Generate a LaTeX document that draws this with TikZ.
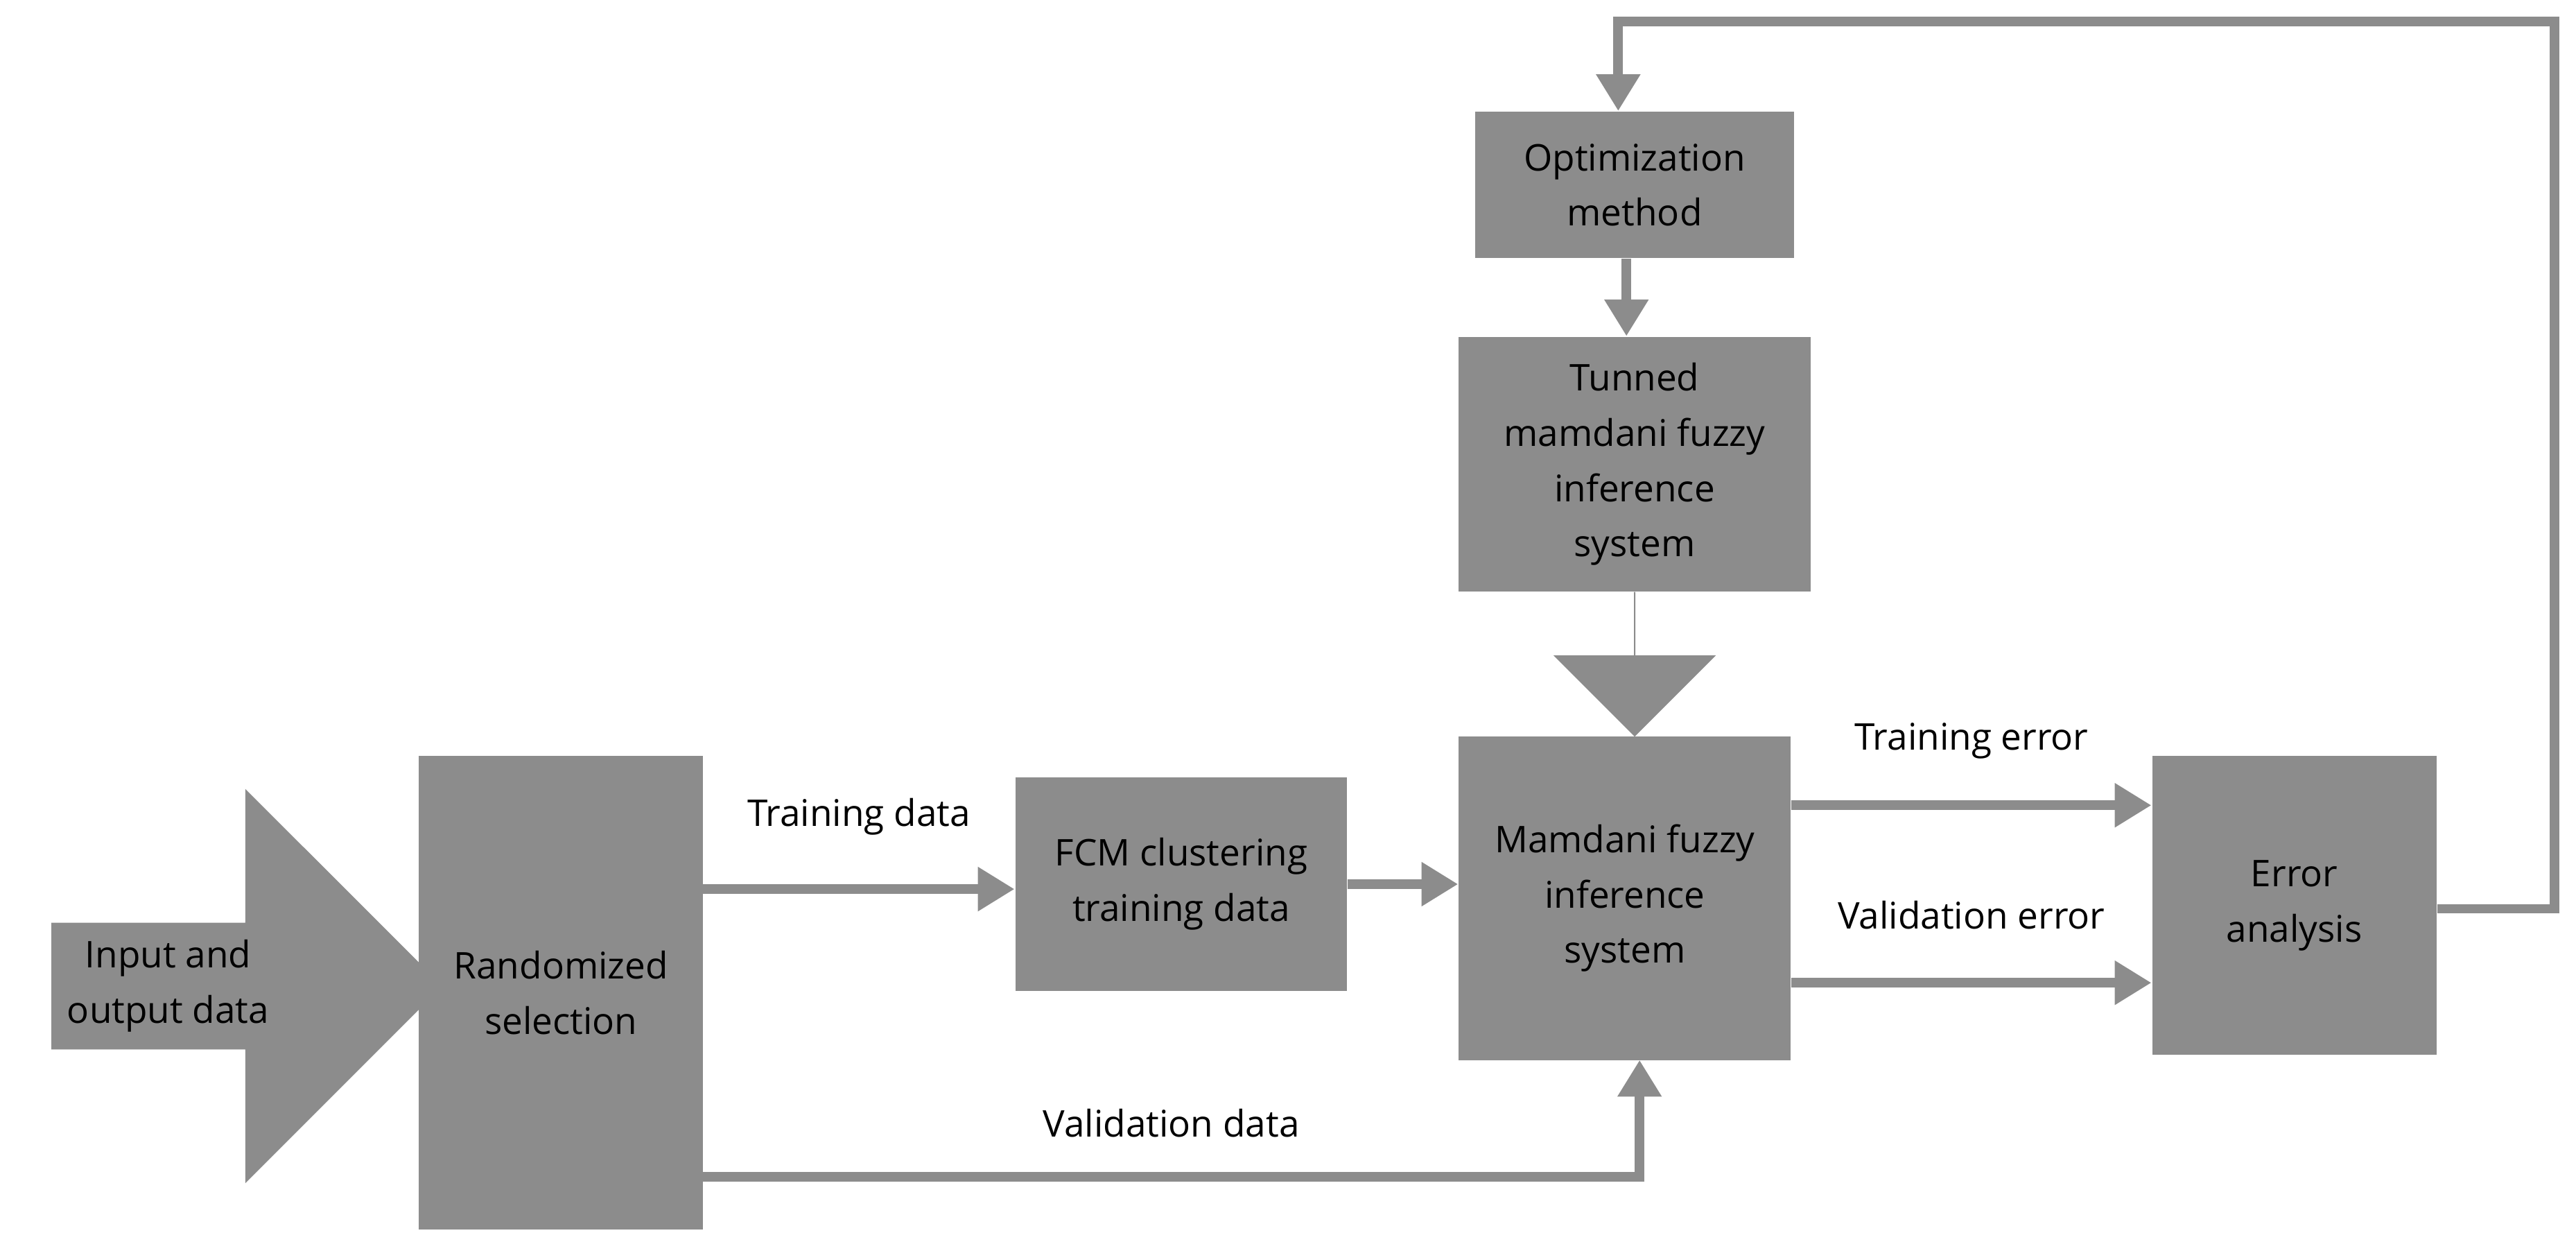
\documentclass[tikz,border=0pt]{standalone}
\usepackage{fontspec}
\setmainfont{Open Sans}
\usetikzlibrary{arrows.meta,shapes.arrows}
\definecolor{boxgray}{HTML}{8C8C8C}
\tikzset{
	>={Triangle[length=3.5mm,width=4mm]},
	blk/.style={rectangle, fill=boxgray, draw=none, align=center, font=\fontsize{10}{15}\selectfont, inner sep=0pt},
	dedge/.style={->, draw=boxgray, line width=2.6pt},
	lbl/.style={font=\fontsize{10}{12}\selectfont},
}
\begin{document}
\begin{tikzpicture}[x=0.0157cm, y=-0.0157cm]
	\useasboundingbox (0,0) rectangle (1568,761);
	% blocks
	\node[blk, minimum width=173*0.0157cm, minimum height=288*0.0157cm] (rand) at (341.5,604) {Randomized\\selection};
	\node[blk, minimum width=202*0.0157cm, minimum height=130*0.0157cm] (fcm) at (719,538) {FCM clustering\\training data};
	\node[blk, minimum width=202*0.0157cm, minimum height=197*0.0157cm] (mam) at (989,546.5) {Mamdani fuzzy\\inference\\system};
	\node[blk, minimum width=214*0.0157cm, minimum height=155*0.0157cm] (tun) at (995,282.5) {Tunned\\mamdani fuzzy\\inference\\system};
	\node[blk, minimum width=194*0.0157cm, minimum height=89*0.0157cm] (opt) at (995,112.5) {Optimization\\method};
	\node[blk, minimum width=173*0.0157cm, minimum height=182*0.0157cm] (err) at (1396.5,551) {Error\\analysis};
	% big arrows
	\node[single arrow, fill=boxgray, minimum height=238*0.0157cm, minimum width=240*0.0157cm,
		single arrow head extend=60*0.0157cm, inner sep=0pt, align=center, font=\fontsize{10}{15}\selectfont] (inp) at (131,600) {\hspace*{-0.9cm}Input and\\\hspace*{-0.9cm}output data};
	\node[single arrow, fill=boxgray, shape border rotate=270, minimum height=88*0.0157cm, minimum width=52*0.0157cm,
		single arrow head extend=49*0.0157cm, inner sep=0pt] (down) at (995,404) {};
	% connectors
	\coordinate (td) at (428,541);
	\coordinate (vd) at (428,716);
	\draw[dedge] (td) -- node[lbl, above=10pt] {Training data} (fcm.west |- td);
	\draw[dedge] (fcm.east) -- (mam.west |- fcm.east);
	\draw[dedge] (vd) -- node[lbl, above=6pt] {Validation data} (998,716) -- (998,645);
	\draw[dedge] (mam.east |- 0,490) -- node[lbl, above=8pt] {Training error} (err.west |- 0,490);
	\draw[dedge] (mam.east |- 0,598) -- node[lbl, above=10pt] {Validation error} (err.west |- 0,598);
	\draw[dedge] (opt.south -| 990,0) -- (tun.north -| 990,0);
	\draw[dedge] (err.east |- 0,553) -- (1555,553) -- (1555,13) -- (985,13) -- (opt.north -| 985,0);
\end{tikzpicture}
\end{document}
